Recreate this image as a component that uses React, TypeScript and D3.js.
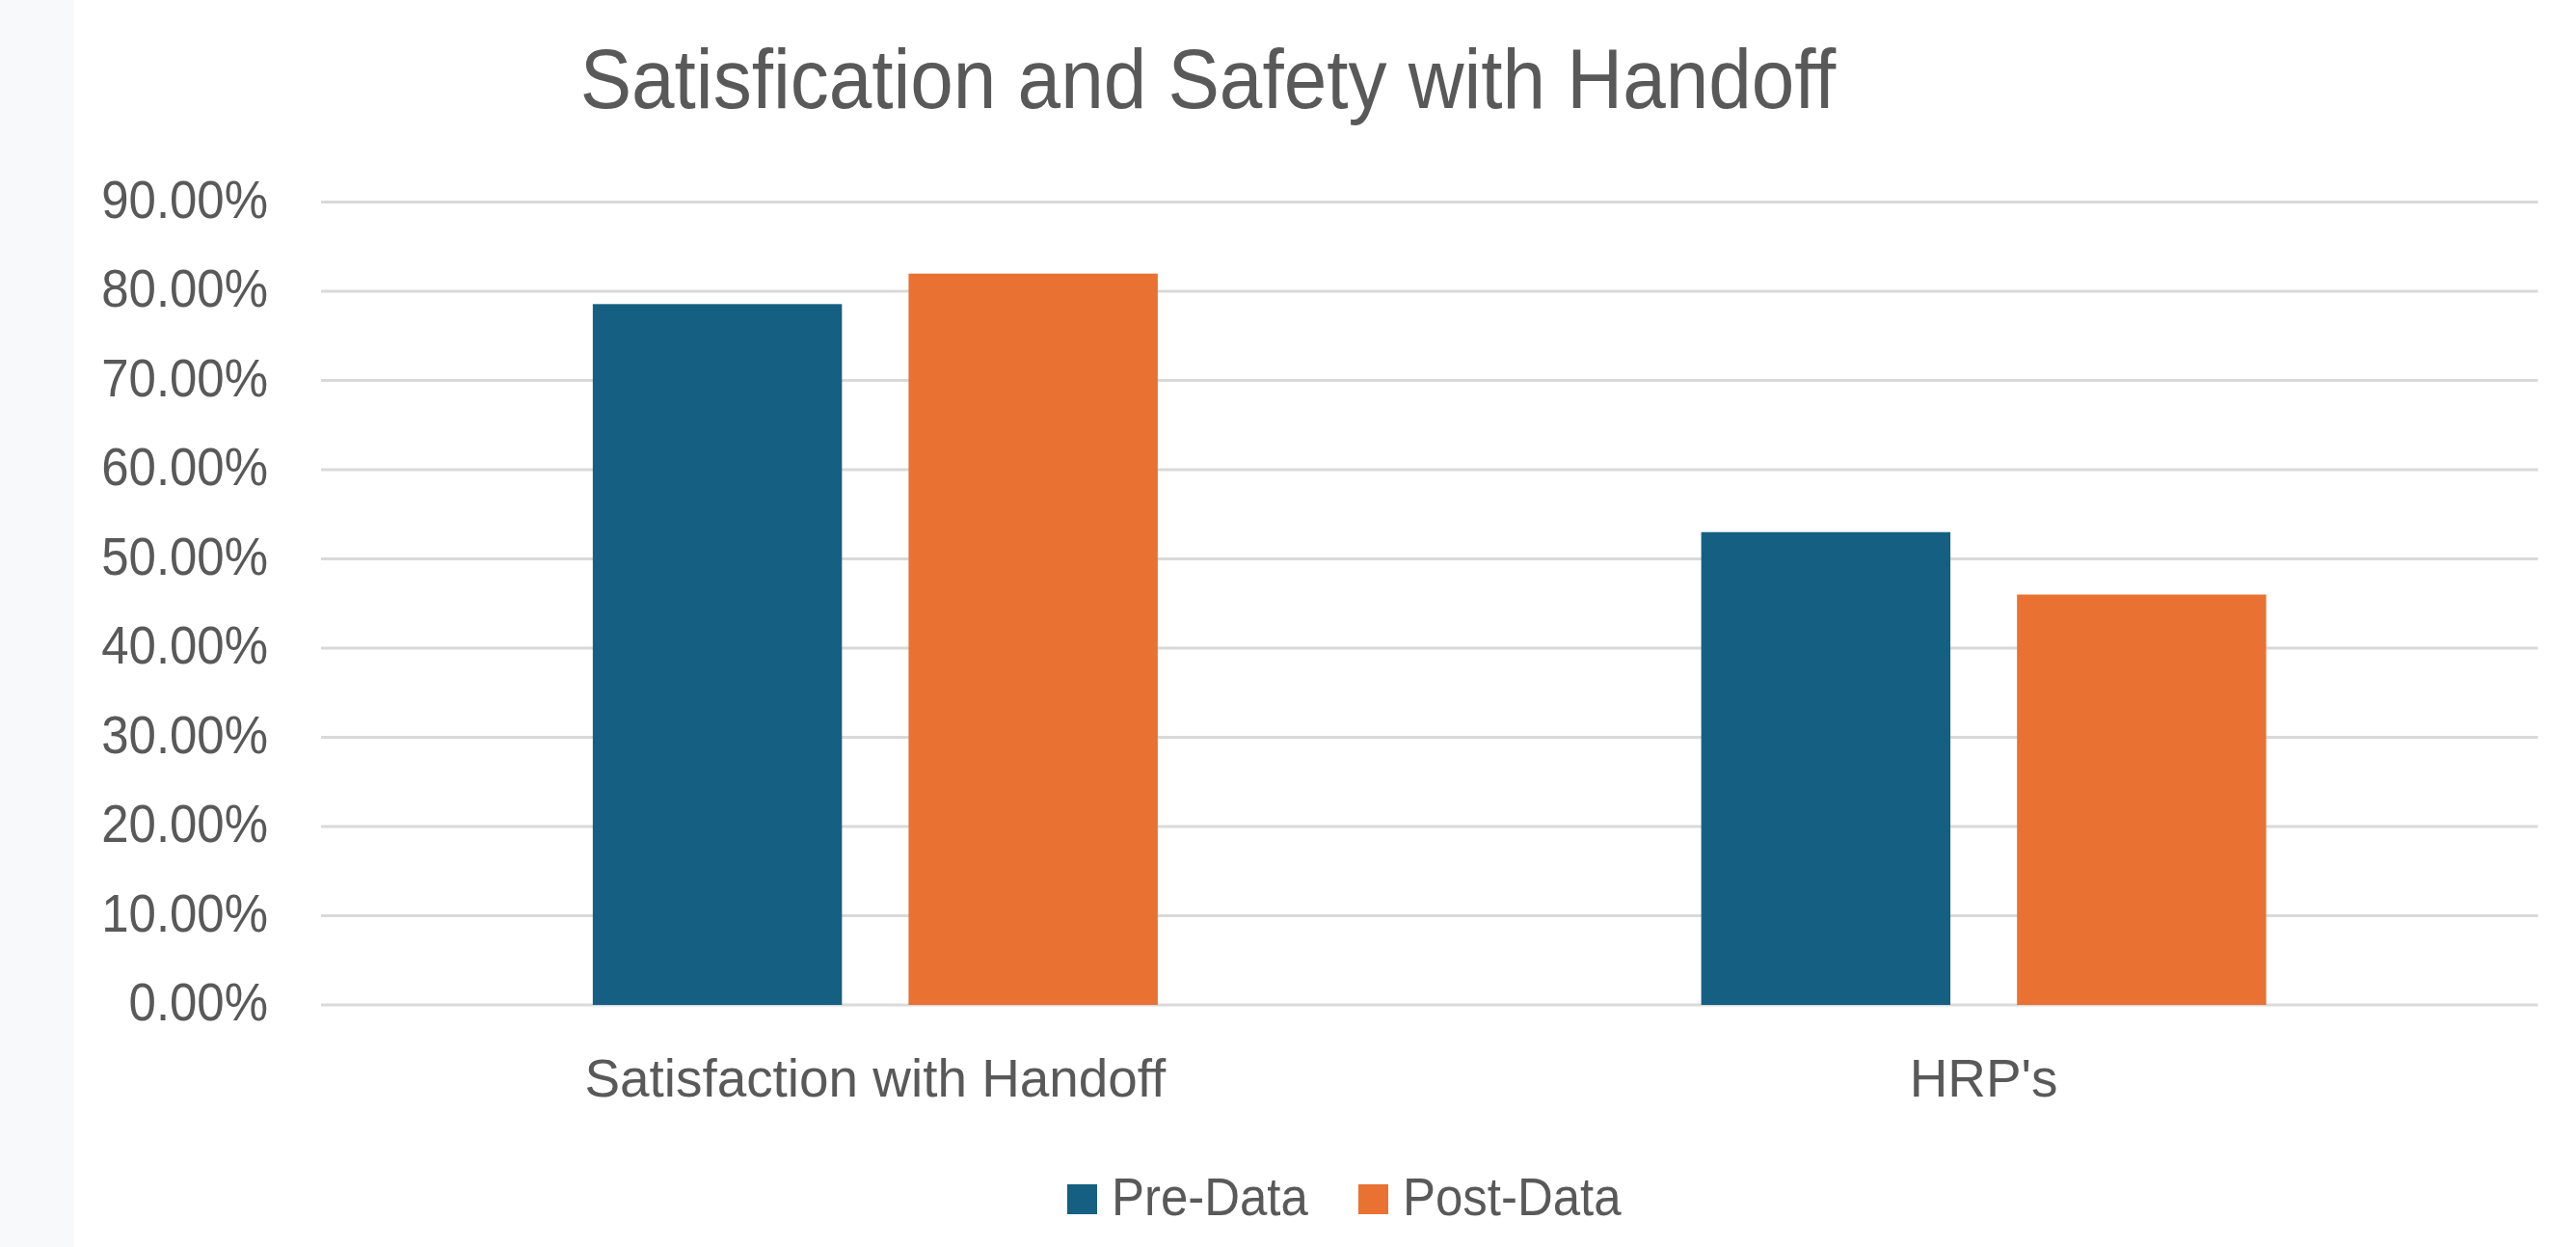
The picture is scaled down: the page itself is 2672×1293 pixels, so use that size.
import React, { useRef, useEffect } from 'react';
import * as d3 from 'd3';

const categories = ['Satisfaction with Handoff', "HRP's"];
const seriesNames = ['Pre-Data', 'Post-Data'];
const preData = [0.7856, 0.53];
const postData = [0.8198, 0.46];
const yTicks = [0, 0.1, 0.2, 0.3, 0.4, 0.5, 0.6, 0.7, 0.8, 0.9];

const SERIES_COLORS: Record<string, string> = {
  'Pre-Data': '#156082',
  'Post-Data': '#E97132',
};

const WIDTH = 2672;
const HEIGHT = 1293;
const TEXT_COLOR = '#595959';
const FONT = '"Liberation Sans", Arial, sans-serif';
const SQUEEZE = 0.91; // the source font is a bit narrower than Arial

export default function App() {
  const svgRef = useRef<SVGSVGElement>(null);

  useEffect(() => {
    if (!svgRef.current) return;
    const svg = d3.select(svgRef.current);
    svg.selectAll('*').remove();

    const plot = { left: 333, right: 2632.5, top: 209.5, bottom: 1042 };

    // light strip on the left edge
    svg.append('rect')
      .attr('x', 0).attr('y', 0)
      .attr('width', 77).attr('height', HEIGHT)
      .attr('fill', '#f7f9fb');

    const x0 = d3.scaleBand<string>()
      .domain(categories)
      .range([plot.left, plot.right])
      .padding(0);

    const groupWidth = 586;
    const x1 = d3.scaleBand<string>()
      .domain(seriesNames)
      .range([-groupWidth / 2, groupWidth / 2])
      .paddingInner(0.211)
      .paddingOuter(0);

    const y = d3.scaleLinear().domain([0, 0.9]).range([plot.bottom, plot.top]);
    const fmt = d3.format('.2%');

    const squeezedText = (
      parent: d3.Selection<any, unknown, null, undefined>,
      tx: number,
      ty: number,
      label: string,
      size: number,
      anchor: string,
      squeeze = SQUEEZE
    ) => {
      parent.append('g')
        .attr('transform', `translate(${tx},${ty}) scale(${squeeze},1)`)
        .append('text')
        .attr('text-anchor', anchor)
        .attr('font-family', FONT)
        .attr('font-size', size)
        .attr('fill', TEXT_COLOR)
        .text(label);
    };

    // grid lines
    const grid = svg.append('g');
    yTicks.forEach((t) => {
      grid.append('line')
        .attr('x1', plot.left).attr('x2', plot.right)
        .attr('y1', y(t)).attr('y2', y(t))
        .attr('stroke', '#d9d9d9')
        .attr('stroke-width', 3);
    });

    // y tick labels
    const yLabels = svg.append('g');
    yTicks.forEach((t) => {
      squeezedText(yLabels, 278, y(t) + 16, fmt(t), 56, 'end');
    });

    // bars
    const bars = svg.append('g');
    const seriesValues: Record<string, number[]> = {
      'Pre-Data': preData,
      'Post-Data': postData,
    };
    categories.forEach((cat, i) => {
      const cx = (x0(cat) ?? 0) + x0.bandwidth() / 2;
      seriesNames.forEach((s) => {
        const v = seriesValues[s][i];
        bars.append('rect')
          .attr('x', cx + (x1(s) ?? 0))
          .attr('y', y(v))
          .attr('width', x1.bandwidth())
          .attr('height', y(0) - y(v))
          .attr('fill', SERIES_COLORS[s]);
      });
    });

    // x category labels
    const xLabels = svg.append('g');
    categories.forEach((cat) => {
      squeezedText(xLabels, (x0(cat) ?? 0) + x0.bandwidth() / 2, 1137, cat, 56, 'middle', 0.98);
    });

    // title
    squeezedText(svg as any, 1253, 112, 'Satisfication and Safety with Handoff', 88, 'middle');

    // legend
    const legend = svg.append('g');
    const legendX = [1107, 1409];
    seriesNames.forEach((s, i) => {
      legend.append('rect')
        .attr('x', legendX[i]).attr('y', 1228)
        .attr('width', 31).attr('height', 31)
        .attr('fill', SERIES_COLORS[s]);
      squeezedText(legend, legendX[i] + 46, 1260, s, 56, 'start');
    });
  }, []);

  return (
    <svg
      ref={svgRef}
      width={WIDTH}
      height={HEIGHT}
      style={{ position: 'absolute', left: 0, top: 0, background: '#ffffff' }}
    />
  );
}
